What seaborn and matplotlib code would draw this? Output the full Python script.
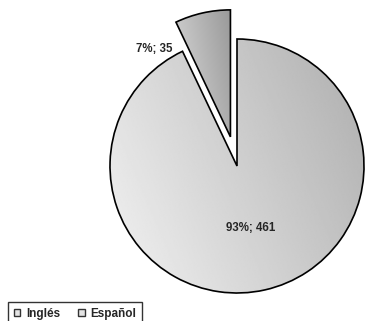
import numpy as np
import matplotlib
matplotlib.use("Agg")
import matplotlib.pyplot as plt
from matplotlib.patches import Patch
import seaborn as sns

# datos
idiomas = ["Inglés", "Español"]
cantidades = [461, 35]
porcentajes = ["93%", "7%"]

sns.set_theme(style="white")
plt.rcParams['font.family'] = ['Liberation Sans', 'DejaVu Sans']

fig = plt.figure(figsize=(3.68, 3.21), dpi=100)
ax = fig.add_axes([0, 0, 1, 1])

R = 127.0
cx, cy = 237.0, 321.0 - 166.0

grises = sns.color_palette(["#d9d9d9", "#bcbcbc"])
wedges, _ = ax.pie(cantidades, colors=grises, startangle=90, counterclock=False,
                   explode=[0, 0.235], radius=1, center=(0, 0),
                   wedgeprops=dict(edgecolor="black", linewidth=1.2))
ax.set_aspect("equal")
ax.axis("off")

# degradado diagonal dentro de cada sector
tonos = [(0.95, 0.68), (0.86, 0.60)]
for w, (claro, oscuro) in zip(wedges, tonos):
    bb = w.get_path().get_extents()
    gx = np.linspace(0, 1, 200)
    X, Y = np.meshgrid(gx, gx[::-1])
    t = 0.7 * X + 0.3 * Y
    img = claro + (oscuro - claro) * t
    im = ax.imshow(img, cmap="gray", vmin=0, vmax=1,
                   extent=[bb.x0, bb.x1, bb.y0, bb.y1],
                   zorder=0, interpolation="bilinear")
    im.set_clip_path(w)
    w.set_facecolor("none")
    w.set_zorder(2)
ax.set_xlim(-cx / R, (368 - cx) / R)
ax.set_ylim(-cy / R, (321 - cy) / R)

etiquetas = [f"{p}; {c}" for p, c in zip(porcentajes, cantidades)]
ax.text(0.11, -0.49, etiquetas[0], ha="center", va="center", fontsize=8.3, fontweight="bold")
ax.text(-0.655, 0.92, etiquetas[1], ha="center", va="center", fontsize=8.3, fontweight="bold")

handles = [Patch(facecolor="#e4e4e4", edgecolor="#333333", linewidth=1.0) for _ in idiomas]
leg = fig.legend(handles, idiomas, loc="upper left", bbox_to_anchor=(8 / 368, 1 - 302 / 321),
                 borderaxespad=0, ncol=2, frameon=True, fancybox=False,
                 handlelength=0.55, handleheight=0.55,
                 handletextpad=0.5, columnspacing=1.5, borderpad=0.5,
                 prop=dict(size=8.5, weight="bold"))
leg.get_frame().set_edgecolor("black")
leg.get_frame().set_linewidth(1.0)

fig.savefig("out.png", dpi=100)
